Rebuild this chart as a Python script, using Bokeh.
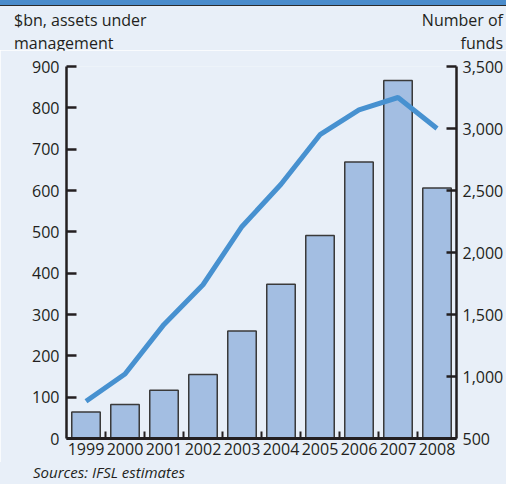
from bokeh.plotting import figure
from bokeh.models import Range1d, LinearAxis, FixedTicker, NumeralTickFormatter, Div
from bokeh.layouts import column
from bokeh.embed import file_html
from bokeh.resources import INLINE

# ---- data ----
years = ["1999", "2000", "2001", "2002", "2003", "2004", "2005", "2006", "2007", "2008"]
assets = [64, 82, 117, 155, 260, 373, 491, 669, 866, 606]          # $bn, left axis (bars)
funds = [800, 1020, 1420, 1740, 2210, 2550, 2950, 3150, 3250, 3000]  # number of funds, right axis (line)
left_ticks = [0, 100, 200, 300, 400, 500, 600, 700, 800, 900]
right_ticks = [500, 1000, 1500, 2000, 2500, 3000, 3500]
left_title = ["$bn, assets under", "management"]
right_title = ["Number of", "funds"]
source = "Sources: IFSL estimates"

# ---- style ----
BG = "#e8eff8"
BAND = "#4a8ccc"
BAR = "#a3bee2"
BAR_EDGE = "#3a3a3a"
LINE = "#4791d0"
INK = "#231f20"
FONT = "Open Sans"
W = 506

xs = list(range(len(years)))

p = figure(width=W, height=412, output_backend="svg", toolbar_location=None,
           x_range=Range1d(-0.5, len(years) - 0.5), y_range=Range1d(left_ticks[0], left_ticks[-1]),
           min_border_left=66, min_border_right=48, min_border_top=16, min_border_bottom=24,
           background_fill_color=BG, border_fill_color=BG, margin=0)
p.title.visible = False
p.outline_line_color = None
p.xgrid.visible = False
p.ygrid.visible = False
p.extra_y_ranges = {"funds": Range1d(right_ticks[0], right_ticks[-1])}

p.vbar(x=xs, top=assets, width=0.73, fill_color=BAR, line_color=BAR_EDGE, line_width=1.5)
p.line(x=xs, y=funds, y_range_name="funds", line_color=LINE, line_width=5)

# x axis: labels at centres, small ticks between bars
xa = p.xaxis[0]
xa.ticker = FixedTicker(ticks=xs, minor_ticks=[x + 0.5 for x in xs[:-1]])
xa.major_label_overrides = {i: y for i, y in enumerate(years)}
xa.major_tick_in = 0
xa.major_tick_out = 0
xa.minor_tick_in = 7
xa.minor_tick_out = 0
xa.minor_tick_line_width = 2
xa.minor_tick_line_color = INK
xa.axis_line_width = 3
xa.axis_line_color = INK
xa.major_label_standoff = 4
xa.major_label_text_font = FONT
xa.major_label_text_font_size = "16px"
xa.major_label_text_color = INK

ya = p.yaxis[0]
ya.ticker = FixedTicker(ticks=left_ticks)
ya.major_tick_in = 10
ya.major_tick_out = 0
ya.minor_tick_line_color = None
ya.major_tick_line_width = 2.5
ya.major_tick_line_color = INK
ya.axis_line_width = 2.5
ya.axis_line_color = INK
ya.major_label_standoff = 7
ya.major_label_text_font = FONT
ya.major_label_text_font_size = "16px"
ya.major_label_text_color = INK

ra = LinearAxis(y_range_name="funds", ticker=FixedTicker(ticks=right_ticks),
                formatter=NumeralTickFormatter(format="0,0"))
ra.major_tick_in = 10
ra.major_tick_out = 0
ra.minor_tick_line_color = None
ra.major_tick_line_width = 2.5
ra.major_tick_line_color = INK
ra.axis_line_width = 2.5
ra.axis_line_color = INK
ra.major_label_standoff = 6
ra.major_label_text_font = FONT
ra.major_label_text_font_size = "16px"
ra.major_label_text_color = INK
p.add_layout(ra, "right")

txt = f"font-family:'{FONT}';font-size:16px;line-height:23px;color:{INK};margin:0;padding:0;"
band = Div(text="", width=W, height=6, margin=0,
           styles={"background-color": BAND, "border-bottom": "1px solid #2b2b2b",
                   "box-sizing": "border-box"})
header = Div(width=W, height=44, margin=0,
             styles={"background-color": BG},
             text=(f"<div style=\"display:flex;justify-content:space-between;width:{W}px;"
                   f"box-sizing:border-box;padding:3px 3px 0 14px;\">"
                   f"<div style=\"{txt}text-align:left;\">{'<br>'.join(left_title)}</div>"
                   f"<div style=\"{txt}text-align:right;\">{'<br>'.join(right_title)}</div></div>"))
foot = Div(width=W, height=22, margin=0,
           styles={"background-color": BG},
           text=(f"<div style=\"font-family:'{FONT}';font-size:15px;line-height:20px;"
                 f"font-style:italic;color:{INK};padding:0 0 0 33px;margin:0;\">{source}</div>"))

layout = column(band, header, p, foot, spacing=0)
open("out.html", "w").write(file_html(layout, INLINE))
